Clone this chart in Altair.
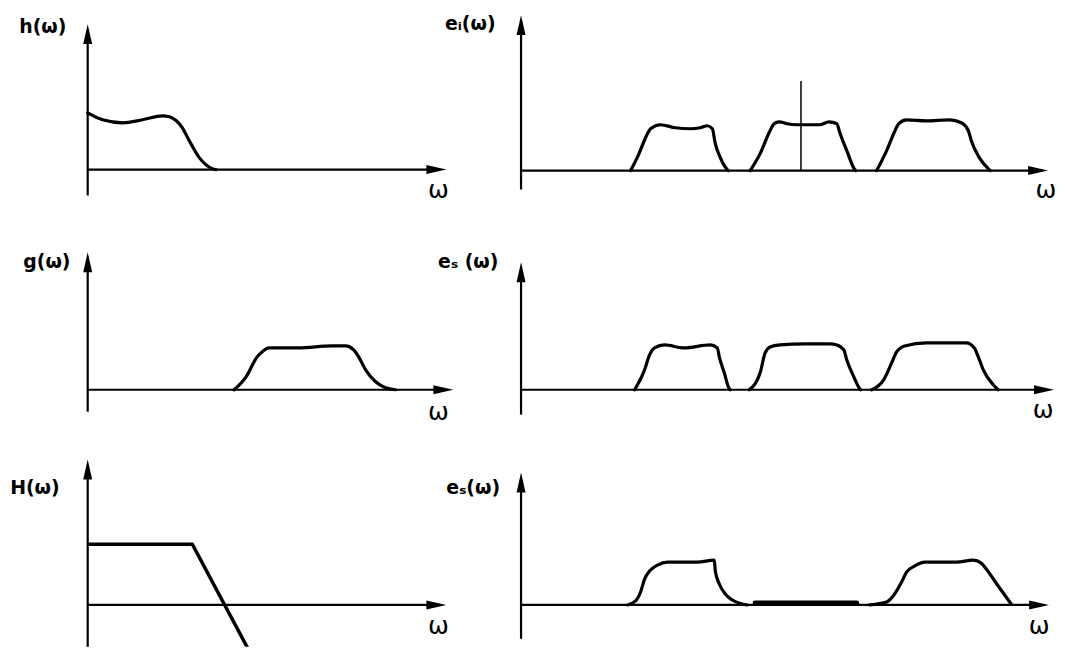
import altair as alt
import pandas as pd

# ---------------- values (ω and amplitude in arbitrary units) ----------------
# h(ω)
h_w = [0.0, 1.5, 3.5, 5.5, 7.5, 8.2, 8.9, 9.5, 10.2, 11.2, 12.5, 12.9]
h_a = [5.7, 5.0, 4.7, 5.0, 5.4, 5.3, 4.9, 4.2, 2.9, 1.2, 0.1, 0.0]

# e_i(ω): three bands and a marker line
ei1_w = [11.0, 11.8, 12.5, 13.0, 14.0, 15.5, 17.0, 18.0, 18.7, 19.2, 19.5, 20.0, 20.7, 20.8]
ei1_a = [0.0, 1.6, 3.3, 4.2, 4.6, 4.3, 4.2, 4.3, 4.5, 4.2, 2.7, 1.3, 0.1, 0.0]
ei2_w = [23.0, 24.0, 24.9, 25.4, 25.9, 26.7, 27.7, 30.0, 30.9, 31.7, 32.0, 32.7, 33.5, 33.6]
ei2_a = [0.0, 1.7, 3.8, 4.7, 4.9, 4.7, 4.6, 4.6, 4.9, 4.7, 3.8, 2.0, 0.1, 0.0]
ei3_w = [35.7, 36.7, 37.4, 37.9, 38.7, 40.7, 43.0, 44.2, 44.9, 45.2, 46.0, 47.0, 47.1]
ei3_a = [0.0, 2.0, 3.7, 4.7, 5.1, 5.0, 5.1, 4.8, 4.0, 3.0, 1.3, 0.1, 0.0]
ei_marker_w = [28.1]
ei_marker_a = [9.0]

# g(ω)
g_w = [14.7, 15.9, 17.0, 17.5, 18.2, 21.2, 24.5, 25.9, 26.7, 27.2, 27.9, 28.9, 29.9, 30.9]
g_a = [0.0, 1.3, 3.3, 3.8, 4.2, 4.2, 4.4, 4.4, 4.0, 3.3, 2.0, 0.8, 0.2, 0.0]

# e_s(ω) (middle row)
es1_w = [11.4, 12.4, 12.9, 13.4, 14.4, 16.4, 19.0, 19.7, 19.9, 20.4, 20.9, 21.0]
es1_a = [0.0, 2.0, 3.5, 4.2, 4.5, 4.2, 4.5, 4.2, 3.3, 1.7, 0.1, 0.0]
es2_w = [22.9, 24.0, 24.5, 25.0, 26.0, 28.5, 31.0, 31.7, 32.4, 32.7, 33.4, 34.0, 34.1]
es2_a = [0.0, 1.7, 3.7, 4.3, 4.5, 4.6, 4.6, 4.5, 4.0, 3.0, 1.3, 0.1, 0.0]
es3_w = [35.2, 36.4, 37.2, 37.7, 38.5, 40.7, 44.7, 45.5, 45.9, 46.4, 47.4, 47.9]
es3_a = [0.0, 1.0, 2.7, 3.8, 4.4, 4.7, 4.7, 4.2, 3.3, 2.0, 0.5, 0.0]

# H(ω)
H_w = [0.0, 10.5, 17.0]
H_a = [6.1, 6.1, -6.1]

# e_s(ω) (bottom row)
esb1_w = [10.7, 11.5, 12.0, 12.4, 12.9, 13.7, 14.7, 17.7, 19.4, 19.5, 19.9, 20.5, 21.2, 22.2, 22.7]
esb1_a = [0.0, 0.4, 1.3, 2.6, 3.4, 4.0, 4.3, 4.3, 4.5, 3.4, 2.1, 1.1, 0.5, 0.1, 0.0]
esb_flat_w = [23.5, 33.7]
esb_flat_a = [0.2, 0.2]
esb2_w = [35.0, 35.7, 36.7, 37.5, 38.2, 38.7, 39.5, 40.5, 43.7, 45.4, 46.2, 46.7, 47.9, 49.2]
esb2_a = [0.0, 0.1, 0.3, 1.1, 2.3, 3.3, 3.9, 4.3, 4.3, 4.5, 4.2, 3.6, 1.9, 0.1]

# panel texts
labels = ["h(ω)", "eᵢ(ω)", "g(ω)", "eₛ (ω)", "H(ω)", "eₛ(ω)"]
omega = "ω"

# ---------------- layout (panel extents, axis ends, text anchors) ----------------
ARROW = "M0,0L0.45,2L-0.45,2Z"
INK = "#000000"
FONT = "DejaVu Sans"

panels = [
    dict(w=432, h=207, xdom=[-8.0, 35.2], ydom=[-4.6, 16.1], ybot=-2.6, ytip=14.6, xtip=36.0,
         lab=(-4.5, 14.3), om=(35.2, -2.1),
         curves=[(h_w, h_a)]),
    dict(w=620, h=207, xdom=[-8.3, 53.7], ydom=[-4.5, 16.2], ybot=-1.9, ytip=15.6, xtip=52.9,
         lab=(-5.1, 14.7), om=(52.7, -2.0),
         curves=[(ei1_w, ei1_a), (ei2_w, ei2_a), (ei3_w, ei3_a)], marker=True),
    dict(w=432, h=225, xdom=[-8.0, 35.2], ydom=[-5.0, 17.5], ybot=-2.2, ytip=13.8, xtip=36.7,
         lab=(-4.1, 12.8), om=(35.2, -2.2),
         curves=[(g_w, g_a)]),
    dict(w=620, h=225, xdom=[-8.3, 53.7], ydom=[-5.0, 17.5], ybot=-2.5, ytip=12.8, xtip=53.5,
         lab=(-5.3, 12.8), om=(52.4, -2.0),
         curves=[(es1_w, es1_a), (es2_w, es2_a), (es3_w, es3_a)]),
    dict(w=432, h=208, xdom=[-8.0, 35.2], ydom=[-4.2, 16.6], ybot=-4.2, ytip=14.6, xtip=36.0,
         lab=(-5.3, 11.7), om=(35.2, -2.1),
         curves=[], hline=True),
    dict(w=620, h=208, xdom=[-8.3, 53.7], ydom=[-4.2, 16.6], ybot=-3.4, ytip=13.3, xtip=53.0,
         lab=(-4.8, 11.7), om=(52.0, -2.1),
         curves=[(esb1_w, esb1_a), (esb2_w, esb2_a)], flat=True),
]


def make_panel(i, p):
    xs = alt.Scale(domain=p["xdom"], nice=False, zero=False)
    ys = alt.Scale(domain=p["ydom"], nice=False, zero=False)

    def X(f):
        return alt.X(f, type="quantitative", scale=xs, axis=None)

    def Y(f):
        return alt.Y(f, type="quantitative", scale=ys, axis=None)

    layers = []
    # axes (rules) - stop a little inside the arrow heads
    ax = pd.DataFrame({
        "x": [0.0, 0.0], "x2": [0.0, p["xtip"] - 1.0],
        "y": [p["ybot"], 0.0], "y2": [p["ytip"] - 1.0, 0.0],
    })
    layers.append(alt.Chart(ax).mark_rule(color=INK, strokeWidth=2.2).encode(
        x=X("x"), x2=alt.X2("x2"), y=Y("y"), y2=alt.Y2("y2")))
    up = pd.DataFrame({"x": [0.0], "y": [p["ytip"]]})
    layers.append(alt.Chart(up).mark_point(shape=ARROW, filled=True, size=400, color=INK,
                                           opacity=1, strokeWidth=0).encode(x=X("x"), y=Y("y")))
    right = pd.DataFrame({"x": [p["xtip"]], "y": [0.0]})
    layers.append(alt.Chart(right).mark_point(shape=ARROW, filled=True, size=400, color=INK,
                                              opacity=1, strokeWidth=0, angle=90).encode(x=X("x"), y=Y("y")))

    # curves
    if p["curves"]:
        rows = []
        for k, (ws, As) in enumerate(p["curves"]):
            for w, a in zip(ws, As):
                rows.append({"w": w, "a": a, "band": k})
        df = pd.DataFrame(rows)
        layers.append(alt.Chart(df).mark_line(color=INK, strokeWidth=3.2, interpolate="monotone",
                                              strokeCap="round", strokeJoin="round").encode(
            x=X("w"), y=Y("a"), detail="band:N"))
    if p.get("marker"):
        mk = pd.DataFrame({"w": ei_marker_w, "a0": [0.0], "a1": ei_marker_a})
        layers.append(alt.Chart(mk).mark_rule(color=INK, strokeWidth=1.5).encode(
            x=X("w"), y=Y("a0"), y2=alt.Y2("a1")))
    if p.get("hline"):
        hd = pd.DataFrame({"w": H_w, "a": H_a})
        layers.append(alt.Chart(hd).mark_line(color=INK, strokeWidth=3.5, clip=True,
                                              strokeJoin="miter").encode(x=X("w"), y=Y("a")))
    if p.get("flat"):
        fd = pd.DataFrame({"w": esb_flat_w, "a": esb_flat_a})
        layers.append(alt.Chart(fd).mark_line(color=INK, strokeWidth=5, strokeCap="round").encode(
            x=X("w"), y=Y("a")))

    # texts
    lt = pd.DataFrame({"x": [p["lab"][0]], "y": [p["lab"][1]], "t": [labels[i]]})
    layers.append(alt.Chart(lt).mark_text(font=FONT, fontSize=19, fontWeight="bold", color=INK,
                                          align="center", baseline="middle").encode(
        x=X("x"), y=Y("y"), text="t:N"))
    ot = pd.DataFrame({"x": [p["om"][0]], "y": [p["om"][1]], "t": [omega]})
    layers.append(alt.Chart(ot).mark_text(font=FONT, fontSize=25, color=INK, align="center",
                                          baseline="middle").encode(x=X("x"), y=Y("y"), text="t:N"))

    return alt.layer(*layers).properties(width=p["w"], height=p["h"])


chart = alt.concat(*[make_panel(i, p) for i, p in enumerate(panels)], columns=2,
                   spacing=0, bounds="flush").properties(
    padding=0, background="white").configure_view(strokeWidth=0)

chart.save("out.html", embed_options={"renderer": "svg", "actions": False})
